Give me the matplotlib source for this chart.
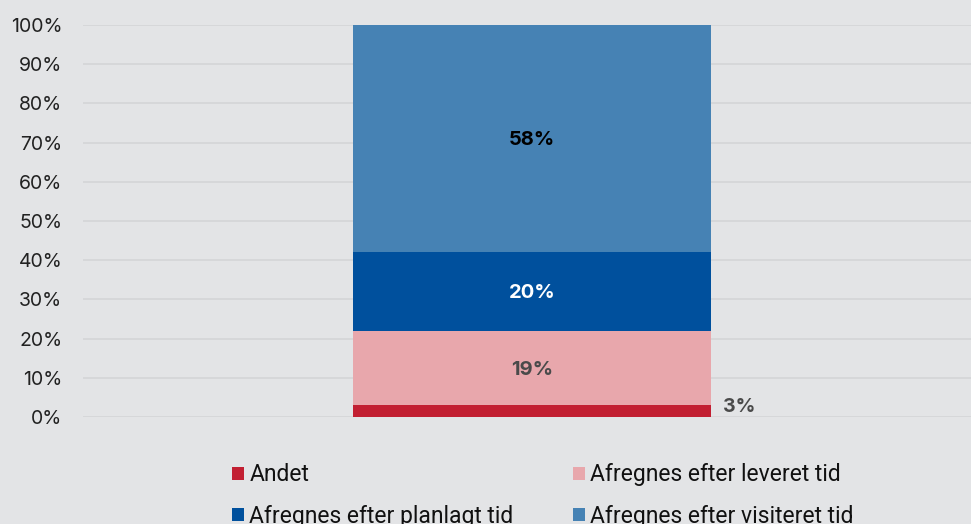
import matplotlib
matplotlib.use("Agg")
import matplotlib.pyplot as plt
from matplotlib.patches import Patch

plt.rcParams['font.family'] = ['Inter', 'DejaVu Sans']

categories = ["Andet", "Afregnes efter leveret tid",
              "Afregnes efter planlagt tid", "Afregnes efter visiteret tid"]
values = [3, 19, 20, 58]
colors = ["#c21f32", "#e8a7ac", "#00509d", "#4682b4"]
label_colors = ["#4a4a4a", "#4a4a4a", "white", "black"]
yticks = [0, 10, 20, 30, 40, 50, 60, 70, 80, 90, 100]

bg = "#e3e4e6"
W, H = 971, 524
fig = plt.figure(figsize=(W / 100, H / 100), dpi=100, facecolor=bg)
ax = fig.add_axes([83 / W, 1 - 417 / H, 1 - 83 / W, (417 - 25) / H], facecolor=bg)

bar_w = 0.403
xc = 0.006
bottom = 0
for val, col, lc in zip(values, colors, label_colors):
    ax.bar(xc, val, bottom=bottom, width=bar_w, color=col, zorder=3)
    if val >= 10:
        ax.text(xc, bottom + val / 2 - 0.4, f"{val}%", ha="center", va="center",
                color=lc, fontsize=14.5, fontweight="bold", zorder=4)
    else:
        ax.text(xc + bar_w / 2 + 0.013, bottom + val / 2 + 1.0, f"{val}%",
                ha="left", va="center", color=lc, fontsize=14,
                fontweight="bold", zorder=4)
    bottom += val

ax.set_xlim(-0.5, 0.5)
ax.set_ylim(0, 100)
ax.set_yticks(yticks)
ax.set_yticklabels([f"{t}%" for t in yticks], fontsize=14, color="#222222")
ax.set_xticks([])
ax.tick_params(axis="y", length=0, pad=15)
ax.grid(axis="y", color="#d4d5d7", linewidth=1.2, zorder=0)
for s in ax.spines.values():
    s.set_visible(False)

handles = [Patch(facecolor=c, edgecolor="none") for c in colors]
order = [0, 2, 1, 3]
fig.legend([handles[i] for i in order], [categories[i] for i in order],
           ncol=2, loc="upper left", bbox_to_anchor=(221 / W, 1 - 452 / H),
           frameon=False, prop={"family": "Roboto", "size": 16.5},
           handlelength=0.52, handleheight=0.52,
           handletextpad=0.22, columnspacing=2.58, labelspacing=0.79,
           borderpad=0, labelcolor="#111111")

fig.savefig("out.png", dpi=100, facecolor=bg)
